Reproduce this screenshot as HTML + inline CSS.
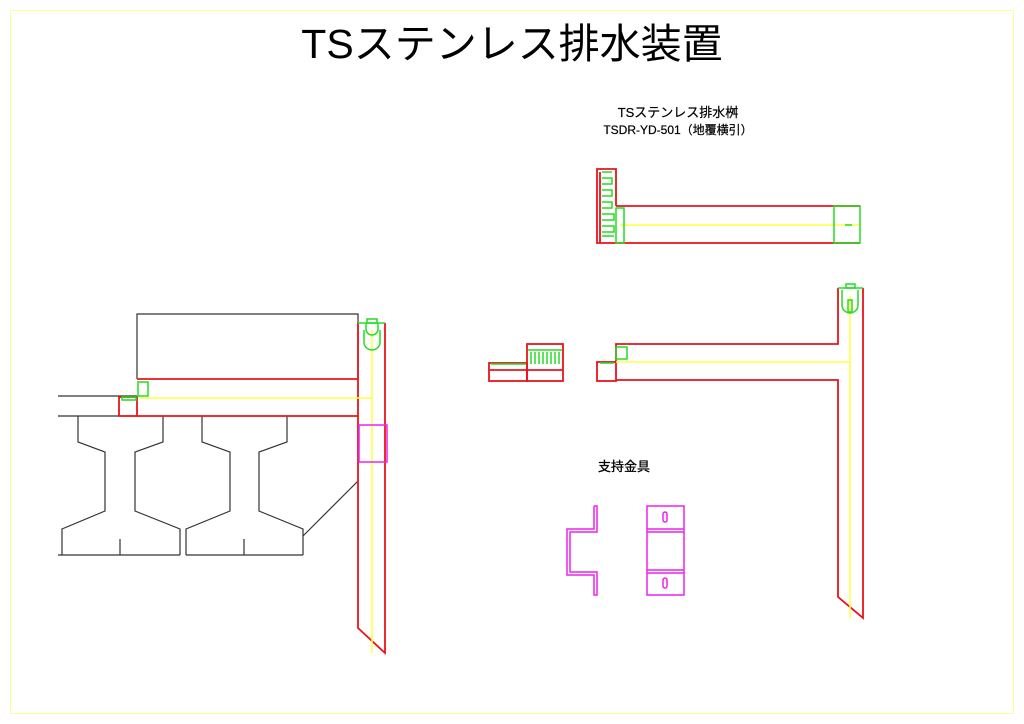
<!DOCTYPE html>
<html><head><meta charset="utf-8"><style>
html,body{margin:0;padding:0;background:#fff;}
svg{display:block;}
text{font-family:"Liberation Sans","Noto Sans CJK JP",sans-serif;fill:#000;}
</style></head><body>
<svg width="1024" height="724" viewBox="0 0 1024 724" xmlns="http://www.w3.org/2000/svg">
<rect x="10.5" y="10.5" width="1003" height="703" fill="none" stroke="#ffff99" stroke-width="1"/>
<text x="512" y="58" font-size="41" text-anchor="middle">TSステンレス排水装置</text>
<text x="678" y="117" font-size="13" text-anchor="middle" stroke="#000" stroke-width="0.2">TSステンレス排水桝</text>
<text x="678" y="134" font-size="12" text-anchor="middle" stroke="#000" stroke-width="0.2">TSDR-YD-501（地覆横引）</text>
<text x="624" y="471" font-size="13" text-anchor="middle" stroke="#000" stroke-width="0.3">支持金具</text>

<g fill="none" stroke-width="1.5">
<g stroke="#333" stroke-width="1.2">
<polyline points="137,379 137,314 358,314 358,379"/>
<line x1="58" y1="396" x2="137" y2="396"/>
<line x1="58" y1="416" x2="119" y2="416"/>
<polyline points="78,416 78,442 105,452 105,511 62,529 62,555"/>
<polyline points="163,416 163,442 135,452 135,511 180,529 180,555"/>
<line x1="58" y1="555" x2="180" y2="555"/><line x1="120" y1="539" x2="120" y2="555"/>
<polyline points="202,416 202,442 230,452 230,511 186,529 186,555"/>
<polyline points="287,416 287,442 259,452 259,511 303,529 303,555"/>
<line x1="186" y1="555" x2="303" y2="555"/><line x1="244" y1="539" x2="244" y2="555"/>
<line x1="303" y1="536" x2="358" y2="481"/>
</g>
<g stroke="#e8141c" stroke-width="1.8">
<line x1="137" y1="379" x2="358" y2="379"/>
<line x1="137" y1="416" x2="358" y2="416"/>
<polyline points="358,323 358,628 385,653 385,323"/>
<rect x="119" y="397" width="18" height="19"/>
</g>
<g stroke="#ffff40">
<line x1="140" y1="398" x2="372" y2="398"/>
<line x1="372" y1="330" x2="372" y2="653"/>
</g>
<g stroke="#22dd22">
<rect x="138" y="382" width="10" height="14"/>
<rect x="122" y="397" width="14" height="3"/>
<polyline points="358,323 385,323"/>
<path d="M366,323 v6 a6,6 0 0 0 12,0 v-6 M364,330 v12 a8,8 0 0 0 16,0 v-12"/>
<rect x="367" y="319" width="10" height="4"/>
</g>
<rect x="359" y="425" width="28" height="37" stroke="#ee22ee"/>

<g stroke="#e8141c" stroke-width="1.8">
<polyline points="616,206 616,169 597,169 597,243 860,243"/>
<line x1="616" y1="206" x2="860" y2="206"/>
<line x1="600" y1="172" x2="600" y2="243"/>
</g>
<line x1="620" y1="225" x2="860" y2="225" stroke="#ffff40"/>
<g stroke="#22dd22">
<rect x="834" y="206" width="26" height="37"/>
<rect x="616" y="208" width="8" height="35"/>
<path d="M602,172 h10 M602,178 h10 v6 h-10 M602,190 h10 v6 h-10 M602,202 h10 v6 h-10 M602,214 h12 v6 h-12 M602,226 h12 v6 h-12 M602,236 h12"/>
<line x1="845" y1="225" x2="852" y2="225"/>
</g>

<g stroke="#e8141c" stroke-width="1.8">
<polyline points="616,362 616,344 838,344 838,288"/>
<polyline points="863,288 863,618 838,597 838,380 616,380"/>
<rect x="597" y="362" width="19" height="19"/>
<rect x="489" y="363" width="38" height="18"/>
<rect x="527" y="344" width="36" height="37"/>
<line x1="489" y1="370" x2="563" y2="370"/>
</g>
<g stroke="#ffff40">
<line x1="616" y1="362" x2="850" y2="362"/>
<line x1="850" y1="296" x2="850" y2="618"/>
</g>
<g stroke="#22dd22">
<polyline points="838,288 863,288"/>
<rect x="846" y="284" width="9" height="4"/>
<path d="M842,290 v15 a8,8 0 0 0 16,0 v-15"/>
<rect x="848" y="300" width="4" height="12"/>
<rect x="616" y="347" width="11" height="12"/>
<line x1="600" y1="363" x2="614" y2="363"/>
<path d="M528,350 h34 M531,352 v12 M535,352 v12 M539,352 v12 M543,352 v12 M547,352 v12 M551,352 v12 M555,352 v12 M559,352 v12"/>
<line x1="491" y1="364" x2="526" y2="364"/>
</g>

<g stroke="#ee22ee">
<polyline points="594,506 594,529 567,529 567,575 594,575 594,595 597,595 597,572 570,572 570,532 597,532 597,506 594,506"/>
<rect x="647" y="506" width="37" height="89"/>
<line x1="647" y1="529" x2="684" y2="529"/><line x1="647" y1="532" x2="684" y2="532"/>
<line x1="647" y1="570" x2="684" y2="570"/><line x1="647" y1="573" x2="684" y2="573"/>
<rect x="663" y="512" width="4" height="10" rx="2"/>
<rect x="663" y="578" width="4" height="10" rx="2"/>
</g>
</g>
</svg>
</body></html>
